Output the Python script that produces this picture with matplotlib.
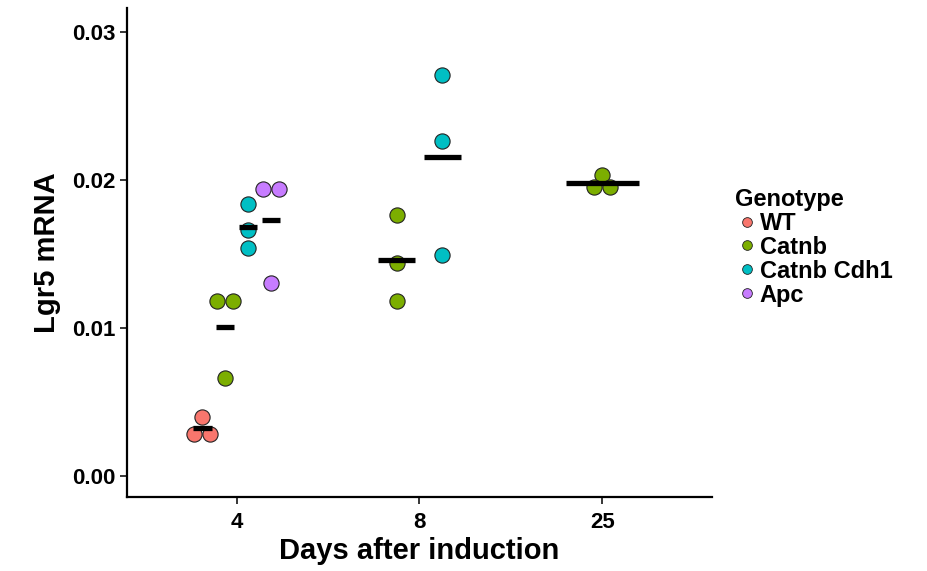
import numpy as np
import matplotlib.pyplot as plt

plt.rcParams['font.family'] = ['Liberation Sans', 'DejaVu Sans']
plt.rcParams['font.weight'] = 'bold'

days = ['4', '8', '25']
genotypes = ['WT', 'Catnb', 'Catnb Cdh1', 'Apc']
colors = ['#F8766D', '#7CAE00', '#00BFC4', '#C77CFF']

# Lgr5 mRNA per (day, genotype)
wt_d4 = [0.0040, 0.0028, 0.0028]
catnb_d4 = [0.0118, 0.0118, 0.0066]
cdh1_d4 = [0.0184, 0.0166, 0.0154]
apc_d4 = [0.0194, 0.0194, 0.0130]
catnb_d8 = [0.0176, 0.0144, 0.0118]
cdh1_d8 = [0.0271, 0.0226, 0.0149]
catnb_d25 = [0.0203, 0.0195, 0.0195]

groups = {
	'4': [('WT', wt_d4), ('Catnb', catnb_d4), ('Catnb Cdh1', cdh1_d4), ('Apc', apc_d4)],
	'8': [('Catnb', catnb_d8), ('Catnb Cdh1', cdh1_d8)],
	'25': [('Catnb', catnb_d25)],
}

dodge = 0.5
stack = 0.044

fig = plt.figure(figsize=(9.27, 5.71), dpi=100)
ax = fig.add_axes([0.137, 0.130, 0.631, 0.856])

for i, d in enumerate(days):
	g = groups[d]
	n = len(g)
	w = dodge / n
	for j, (name, vals) in enumerate(g):
		cx = i + 1 - dodge / 2 + w * (j + 0.5)
		col = colors[genotypes.index(name)]
		vals = np.array(vals)
		# equal values side by side, like a dotplot
		xs = np.zeros(len(vals))
		for v in np.unique(vals):
			idx = np.where(np.isclose(vals, v))[0]
			k = len(idx)
			xs[idx] = cx + (np.arange(k) - (k - 1) / 2) * 2 * stack
		ax.scatter(xs, vals, s=120, color=col, edgecolor='#222222', linewidth=0.8, zorder=3)
		m = vals.mean()
		ax.plot([cx - 0.4 * w, cx + 0.4 * w], [m, m],
				color='black', lw=3.8, solid_capstyle='butt', zorder=4)

ax.set_xlim(0.4, 3.6)
ax.set_ylim(-0.00142, 0.03162)
ax.set_xticks([1, 2, 3])
ax.set_xticklabels(days)
ax.set_yticks([0, 0.01, 0.02, 0.03])
ax.set_yticklabels(['0.00', '0.01', '0.02', '0.03'])

for s in ['top', 'right']:
	ax.spines[s].set_visible(False)
for s in ['left', 'bottom']:
	ax.spines[s].set_linewidth(1.6)
ax.tick_params(axis='both', labelsize=16, width=1.1, length=5, colors='black', pad=3)
ax.tick_params(axis='x', pad=6)
for lab in ax.get_xticklabels() + ax.get_yticklabels():
	lab.set_fontweight('bold')

ax.set_xlabel('Days after induction', fontsize=21, fontweight='bold', labelpad=3)
ax.set_ylabel('Lgr5 mRNA', fontsize=21, fontweight='bold', labelpad=8)

handles = [plt.Line2D([], [], marker='o', ls='', markersize=7, markerfacecolor=c,
		markeredgecolor='#222222', markeredgewidth=0.6) for c in colors]
leg = fig.legend(handles, genotypes, title='Genotype', loc='upper left',
		bbox_to_anchor=(0.793, 0.671), frameon=False, fontsize=17,
		title_fontsize=17, handletextpad=0.05, labelspacing=0.04, handlelength=1.0,
		borderaxespad=0, borderpad=0)
leg._legend_box.align = 'left'
leg.get_title().set_fontweight('bold')
for t in leg.get_texts():
	t.set_fontweight('bold')

plt.savefig('out.png', dpi=100)
